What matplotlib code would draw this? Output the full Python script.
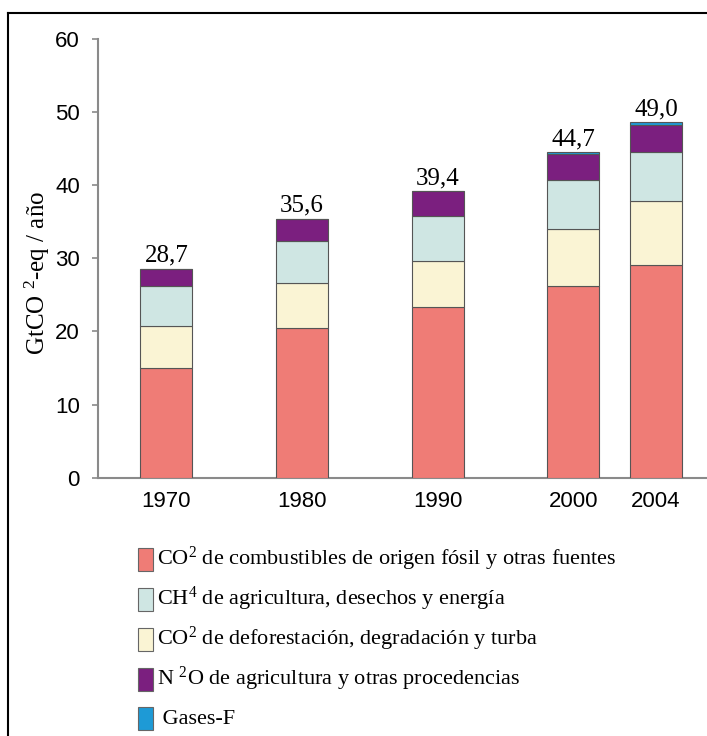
import numpy as np
import matplotlib.pyplot as plt
from matplotlib.patches import Rectangle
from matplotlib.lines import Line2D

plt.rcParams['mathtext.fontset'] = 'custom'
plt.rcParams['mathtext.rm'] = 'Liberation Serif'
plt.rcParams['mathtext.it'] = 'Liberation Serif:italic'

# Data (GtCO2-eq / year)
years = ['1970', '1980', '1990', '2000', '2004']
co2_fossil = [15.0, 20.4, 23.3, 26.2, 29.1]
co2_deforest = [5.8, 6.2, 6.3, 7.8, 8.7]
ch4 = [5.4, 5.8, 6.2, 6.7, 6.8]
n2o = [2.4, 3.0, 3.4, 3.5, 3.7]
f_gases = [0.0, 0.0, 0.0, 0.3, 0.3]
totals = ['28,7', '35,6', '39,4', '44,7', '49,0']

# stacking order bottom -> top
series = [co2_fossil, co2_deforest, ch4, n2o, f_gases]
colors = ['#EF7C76', '#FAF4D4', '#CFE6E3', '#7B1F7F', '#1E9AD6']

legend_labels = [r'CO$^\mathrm{2}$ de combustibles de origen fósil y otras fuentes',
                 r'CH$^\mathrm{4}$ de agricultura, desechos y energía',
                 r'CO$^\mathrm{2}$ de deforestación, degradación y turba',
                 r'N $^\mathrm{2}$O de agricultura y otras procedencias',
                 ' Gases-F']
legend_colors = ['#EF7C76', '#CFE6E3', '#FAF4D4', '#7B1F7F', '#1E9AD6']

W, H = 707, 736
fig = plt.figure(figsize=(W / 100, H / 100), dpi=100)
ax = fig.add_axes([98 / W, 1 - 477.6 / H, 1 - 98 / W, (477.6 - 39) / H])

# bar positions (2004 sits closer to 2000)
x = np.array([0, 1, 2, 3, 3.61])
width = 0.383

bottom = np.zeros(len(years))
for vals, c in zip(series, colors):
    ax.bar(x, vals, width, bottom=bottom, color=c, edgecolor='#555555', linewidth=0.8, zorder=3)
    bottom += np.array(vals)

for xi, top, lab in zip(x, bottom, totals):
    ax.annotate(lab, (xi, top), xytext=(0, 5), textcoords='offset points',
                ha='center', va='baseline', fontsize=18, family='Liberation Serif')

ax.set_xlim(-0.504, 3.987)
ax.set_ylim(0, 60)
ax.set_yticks(range(0, 61, 10))
ax.set_xticks(x)
ax.set_xticklabels(years)

for s in ['top', 'right']:
    ax.spines[s].set_visible(False)
for s in ['left', 'bottom']:
    ax.spines[s].set_color('#8a8a8a')
    ax.spines[s].set_linewidth(1.5)

ax.tick_params(axis='y', length=4, width=1.2, color='#8a8a8a', pad=9, labelsize=16)
ax.tick_params(axis='x', length=0, pad=10, labelsize=16)
for lab in ax.get_xticklabels() + ax.get_yticklabels():
    lab.set_family('Liberation Sans')

fig.text(37 / W, 1 - 273 / H, r'GtCO $^\mathrm{2}$-eq / año', rotation=90,
         ha='center', va='center', fontsize=18, family='Liberation Serif')

# legend drawn by hand
row_y = [559, 599, 639, 679, 718]
for yc, lab, c in zip(row_y, legend_labels, legend_colors):
    fig.add_artist(Rectangle((138 / W, 1 - (yc + 11.5) / H), 15 / W, 23 / H,
                             facecolor=c, edgecolor='#666666', linewidth=0.8,
                             transform=fig.transFigure))
    fig.text(157 / W, 1 - (yc + 6) / H, lab, ha='left', va='baseline',
             fontsize=16, family='Liberation Serif')

# frame around the figure
fig.add_artist(Line2D([8 / W, 8 / W], [0, 1 - 13 / H], color='black', linewidth=1.5,
                      transform=fig.transFigure))
fig.add_artist(Line2D([8 / W, 1], [1 - 13 / H, 1 - 13 / H], color='black', linewidth=1.5,
                      transform=fig.transFigure))

fig.savefig('out.png', dpi=100)
